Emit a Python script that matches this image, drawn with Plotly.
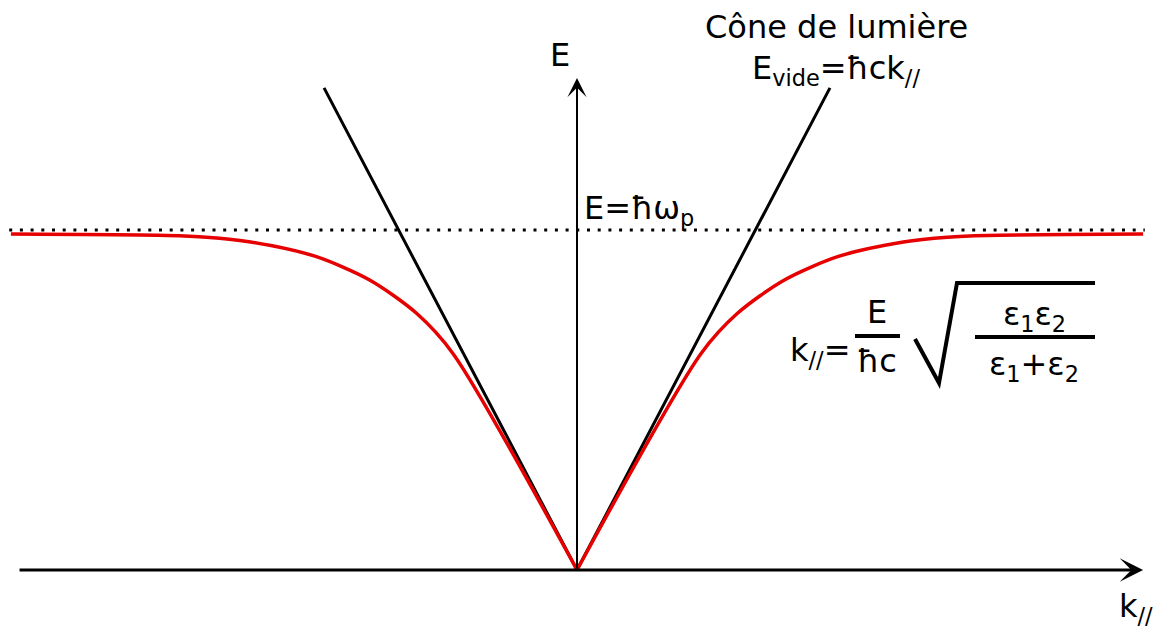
import plotly.graph_objects as go

# surface plasmon dispersion (E in units of E_p = ħω_p)
k_plasmon = [-1.665, -1.206, -1.09, -0.96, -0.771, -0.61, -0.472, -0.365, 0.0,
             0.365, 0.472, 0.61, 0.771, 0.96, 1.09, 1.206, 1.665]
E_plasmon = [0.988, 0.984, 0.979, 0.965, 0.923, 0.853, 0.755, 0.637, 0.0,
             0.637, 0.755, 0.853, 0.923, 0.965, 0.979, 0.984, 0.988]

# light cone E = ħck (the two black lines)
k_cone = [-0.744, 0.0, 0.744]
E_cone = [1.418, 0.0, 1.418]

# plasma energy E = ħω_p
k_plasma = [-1.67, 1.67]
E_plasma = [1.0, 1.0]

# extent of the two axes
k_axis = [-1.644, 1.665]
E_axis = [0.0, 1.447]

# page has an 8px body margin, so the figure is drawn 8px in
PAGE = 8
W, H = 1168 - 2 * PAGE, 634 - 2 * PAGE
# origin pixel (in the figure) and pixels per unit
X0, Y0, SCALE = 577 - PAGE, 570 - PAGE, 340


def at(px, py):
    """pixel position in the reference picture -> data coordinates"""
    return (px - PAGE - X0) / SCALE, (Y0 - (py - PAGE)) / SCALE


FONT = dict(family="DejaVu Sans", size=32, color="black")

fig = go.Figure()

# light cone
fig.add_trace(go.Scatter(x=k_cone, y=E_cone, mode="lines",
                         line=dict(color="black", width=3)))

# plasma level, dotted
fig.add_trace(go.Scatter(x=k_plasma, y=E_plasma, mode="lines",
                         line=dict(color="black", width=3, dash="3px,7.7px")))

# plasmon dispersion, each branch on its own so the vertex stays sharp
mid = k_plasmon.index(0.0)
for sl in (slice(0, mid + 1), slice(mid, None)):
    fig.add_trace(go.Scatter(x=k_plasmon[sl], y=E_plasmon[sl], mode="lines",
                             line=dict(color="#e60000", width=3.5,
                                       shape="spline", smoothing=0.8)))

annotations = []

# axes with arrowheads
annotations.append(dict(x=k_axis[1], y=0, ax=k_axis[0], ay=0, xref="x", yref="y",
                        axref="x", ayref="y", showarrow=True, arrowhead=3,
                        arrowsize=1.3, arrowwidth=3, arrowcolor="black", text=""))
annotations.append(dict(x=0, y=E_axis[1], ax=0, ay=E_axis[0], xref="x", yref="y",
                        axref="x", ayref="y", showarrow=True, arrowhead=3,
                        arrowsize=1.6, arrowwidth=2, arrowcolor="black", text=""))


def label(text, px, py, xanchor="center", yanchor="middle"):
    x, y = at(px, py)
    annotations.append(dict(x=x, y=y, xref="x", yref="y", text=text, showarrow=False,
                            xanchor=xanchor, yanchor=yanchor, font=FONT))


label("Cône de lumière", 836, 27)
label("E<sub>vide</sub>=ħck<sub>//</sub>", 836, 70)
label("E", 560, 55)
label("E=ħω<sub>p</sub>", 582, 210, xanchor="left")
label("k<sub>//</sub>", 1136, 608)

# formula k// = E/ħc sqrt(ε1ε2/(ε1+ε2))
label("k<sub>//</sub>=", 852, 352, xanchor="right")
label("E", 877, 312)
label("ħc", 877, 361)
label("ε<sub>1</sub>ε<sub>2</sub>", 1034, 316)
label("ε<sub>1</sub>+ε<sub>2</sub>", 1034, 366)

shapes = []


def seg(p, q, width=4):
    x1, y1 = at(*p)
    x2, y2 = at(*q)
    shapes.append(dict(type="line", x0=x1, y0=y1, x1=x2, y1=y2, xref="x", yref="y",
                       line=dict(color="black", width=width)))


seg((855, 336), (900, 336))           # E / ħc bar
seg((975, 337), (1095, 337))          # inner fraction bar
# radical sign
pts = [at(915, 339), at(939, 383), at(957, 283), at(1095, 283)]
path = "M " + " L ".join(f"{x},{y}" for x, y in pts)
shapes.append(dict(type="path", path=path, xref="x", yref="y",
                   line=dict(color="black", width=4)))

fig.update_layout(
    width=W, height=H,
    margin=dict(l=0, r=0, t=0, b=0),
    paper_bgcolor="white", plot_bgcolor="white",
    showlegend=False,
    annotations=annotations,
    shapes=shapes,
    xaxis=dict(range=[-X0 / SCALE, (W - X0) / SCALE], visible=False, fixedrange=True),
    yaxis=dict(range=[(Y0 - H) / SCALE, Y0 / SCALE], visible=False, fixedrange=True),
)

fig.write_html("out.html")
